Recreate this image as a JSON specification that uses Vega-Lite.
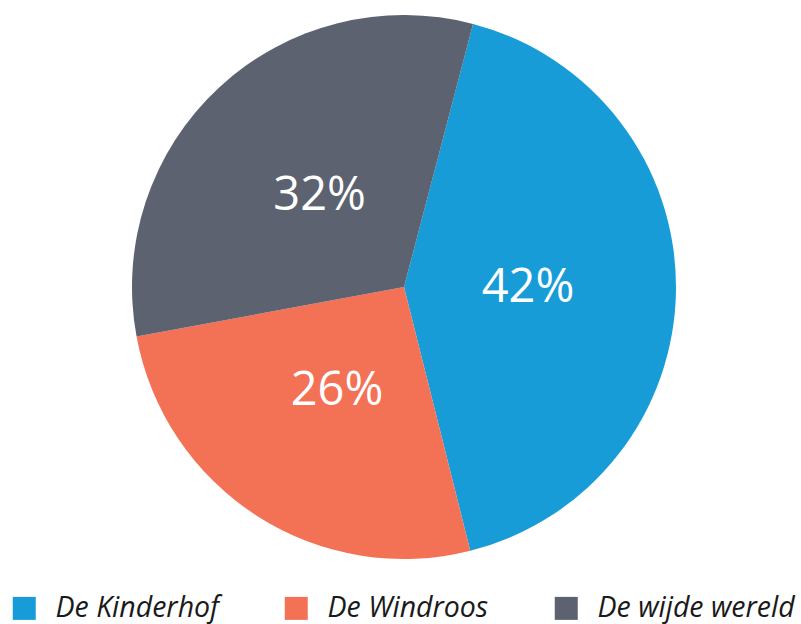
{
  "$schema": "https://vega.github.io/schema/vega-lite/v6.json",
  "width": 794,
  "height": 574,
  "autosize": {"type": "none"},
  "padding": {"left": 7, "top": 0, "right": 0, "bottom": 50},
  "background": "white",
  "view": {"stroke": null},
  "data": {
    "values": [
      {"cat": "De Kinderhof", "value": 42, "label": "42%", "order": 1},
      {"cat": "De Windroos", "value": 26, "label": "26%", "order": 2},
      {"cat": "De wijde wereld", "value": 32, "label": "32%", "order": 3}
    ]
  },
  "encoding": {
    "theta": {"field": "value", "type": "quantitative", "stack": true, "scale": {"range": [0.2566, 6.5398]}},
    "order": {"field": "order", "type": "quantitative"}
  },
  "layer": [
    {
      "mark": {"type": "arc", "outerRadius": 272},
      "encoding": {
        "color": {
          "field": "cat",
          "type": "nominal",
          "sort": ["De Kinderhof", "De Windroos", "De wijde wereld"],
          "scale": {"domain": ["De Kinderhof", "De Windroos", "De wijde wereld"], "range": ["#179CD8", "#F37155", "#5C6270"]},
          "legend": {
            "title": null,
            "orient": "none",
            "legendX": 3,
            "legendY": 594,
            "direction": "horizontal",
            "columns": 3,
            "columnPadding": 63,
            "symbolType": "square",
            "symbolSize": 529,
            "symbolStrokeWidth": 0,
            "labelFont": "Open Sans",
            "labelFontStyle": "italic",
            "labelFontSize": 28.5,
            "labelColor": "#1a1a1a",
            "labelOffset": 17,
            "labelLimit": 400
          }
        }
      }
    },
    {
      "mark": {"type": "text", "radius": 124, "font": "Open Sans", "fontSize": 47, "fill": "white", "baseline": "middle", "align": "center"},
      "encoding": {"text": {"field": "label", "type": "nominal"}}
    }
  ]
}
